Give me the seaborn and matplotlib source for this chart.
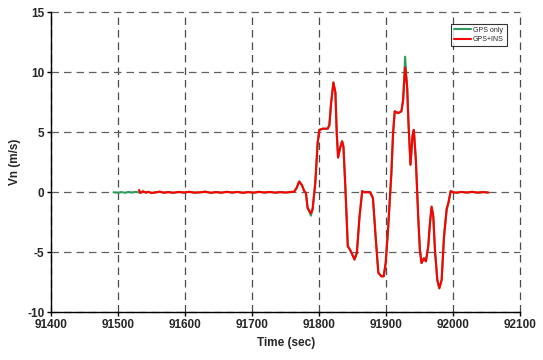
import matplotlib
matplotlib.use("Agg")
import matplotlib.pyplot as plt
import seaborn as sns
import pandas as pd

# ---- data ----
red_time = [91531, 91533, 91537, 91541, 91545, 91550, 91556, 91562, 91568, 91575,
            91582, 91590, 91598, 91606, 91614, 91622, 91630, 91638, 91646, 91654,
            91662, 91670, 91678, 91686, 91694, 91702, 91710, 91718, 91726, 91734,
            91742, 91750, 91758, 91762.5, 91766, 91770, 91774, 91777.5, 91780, 91782.5,
            91787.5, 91790, 91794, 91797.5, 91800, 91805, 91812.5, 91815, 91817.5, 91821,
            91824, 91826, 91828, 91831, 91834, 91836, 91839, 91842.5, 91846, 91852.5,
            91856, 91860, 91864, 91867.5, 91872, 91876, 91880, 91884, 91888, 91892.5,
            91896, 91899, 91902.5, 91907.5, 91910, 91912.5, 91917.5, 91922.5, 91925, 91928,
            91931, 91933, 91936, 91939, 91941, 91944, 91947.5, 91950, 91952.5, 91956,
            91959, 91962.5, 91965, 91967.5, 91970, 91972.5, 91976, 91979, 91982.5, 91986,
            91990, 91992.5, 91996, 92000, 92005, 92012, 92020, 92028, 92036, 92044, 92052]
red_vn = [0.2, -0.05, 0.08, -0.02, 0.04, -0.06, 0.0, 0.05, -0.03, 0.02,
          -0.04, 0.03, -0.02, 0.04, -0.03, 0.0, 0.05, -0.04, 0.02, -0.03,
          0.04, -0.02, 0.03, -0.04, 0.02, -0.03, 0.04, -0.02, 0.03, -0.03,
          0.02, -0.02, 0.03, 0.05, 0.35, 0.9, 0.6, 0.1, -0.05, -1.3,
          -1.75, -1.4, 0.8, 4.1, 5.2, 5.3, 5.3, 5.6, 7.4, 9.15,
          8.3, 4.9, 2.9, 3.7, 4.25, 3.8, 0.2, -4.5, -4.8, -5.6,
          -5.05, -2.0, 0.1, 0.0, 0.02, 0.0, -0.5, -3.7, -6.7, -7.0,
          -7.0, -5.9, -3.1, 1.6, 4.9, 6.75, 6.6, 6.75, 7.7, 10.4,
          8.8, 5.8, 2.3, 4.7, 5.2, 2.7, -2.0, -4.8, -5.9, -5.5,
          -5.75, -4.5, -2.6, -1.2, -2.0, -4.8, -7.3, -8.0, -7.3, -3.7,
          -1.4, -0.9, 0.1, 0.0, -0.03, 0.03, -0.02, 0.04, -0.03, 0.02, -0.02]

green_time = [91493, 91500, 91505, 91510, 91515, 91520, 91525, 91531] + red_time[1:]
green_vn = [0.0, -0.03, 0.02, -0.04, 0.03, -0.02, 0.03, 0.0] + red_vn[1:]
# green-only visible deviations
green_vn[green_time.index(91787.5)] = -1.95
green_vn[green_time.index(91928)] = 11.3

x_ticks = [91400, 91500, 91600, 91700, 91800, 91900, 92000, 92100]
y_ticks = [-10, -5, 0, 5, 10, 15]
series_names = ["GPS only", "GPS+INS"]

green_df = pd.DataFrame({"t": green_time, "v": green_vn})
red_df = pd.DataFrame({"t": red_time, "v": red_vn})

sns.set_theme(style="white")
plt.rcParams["font.family"] = ["Liberation Sans", "DejaVu Sans"]

fig = plt.figure(figsize=(5.43, 3.6), dpi=100)
ax = fig.add_axes([0.0943, 0.1325, 0.8641, 0.8333])

sns.lineplot(data=green_df, x="t", y="v", ax=ax, color="#2e9e5e", lw=1.5,
             label=series_names[0], estimator=None, sort=False)
sns.lineplot(data=red_df, x="t", y="v", ax=ax, color="#ff0000", lw=1.5,
             label=series_names[1], estimator=None, sort=False)

ax.set_xlim(91400, 92100)
ax.set_ylim(-10, 15)
ax.set_xticks(x_ticks)
ax.set_yticks(y_ticks)
ax.set_xticklabels([str(v) for v in x_ticks], fontsize=8.5, fontweight="bold")
ax.set_yticklabels([str(v) for v in y_ticks], fontsize=8.5, fontweight="bold")
ax.tick_params(axis="both", direction="out", length=3, width=1, color="black",
               bottom=True, left=True, pad=2)
ax.set_xlabel("Time (sec)", fontsize=8.5, fontweight="bold", labelpad=4)
ax.set_ylabel("Vn (m/s)", fontsize=8.5, fontweight="bold", labelpad=4)

ax.xaxis.grid(True, color="#4a4a4a", linestyle=(0, (6, 4)), linewidth=0.9)
ax.yaxis.grid(True, color="#606060", linestyle=(0, (6, 4)), linewidth=0.9)
ax.set_axisbelow(True)
for gl in ax.get_xgridlines() + ax.get_ygridlines():
    gl.set_clip_on(False)
for side in ["top", "right"]:
    ax.spines[side].set_visible(False)
for side in ["left", "bottom"]:
    ax.spines[side].set_color("black")
    ax.spines[side].set_linewidth(1.0)
    ax.spines[side].set_zorder(3)

leg = ax.legend(loc="upper right", bbox_to_anchor=(0.971, 0.962), fontsize=5,
                frameon=True, fancybox=False, edgecolor="black", handlelength=2.4,
                handletextpad=0.3, borderpad=0.45, labelspacing=0.35, borderaxespad=0)
leg.get_frame().set_linewidth(0.8)

fig.savefig("out.png", dpi=100, facecolor="white")
